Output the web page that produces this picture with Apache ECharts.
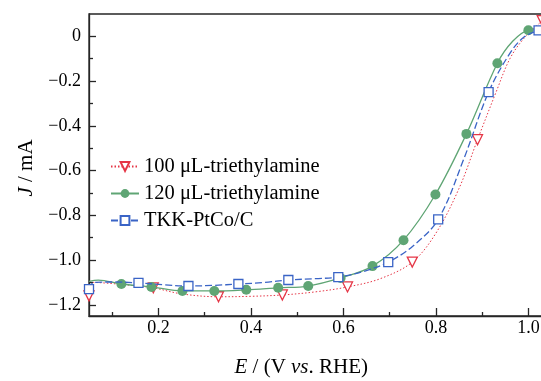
<!DOCTYPE html>
<html>
<head>
<meta charset="utf-8">
<script src="https://cdn.jsdelivr.net/npm/echarts@6/dist/echarts.min.js"></script>
<style>
html,body{margin:0;padding:0;background:#fff;}
#c{width:541px;height:381px;}
</style>
</head>
<body>
<div id="c"></div>
<script>
// ---- data (E in V vs. RHE, J in mA) ----
const seriesNames = ['100 μL-triethylamine', '120 μL-triethylamine', 'TKK-PtCo/C'];

// 100 µL-triethylamine: marker points
const e100Marks = [0.05, 0.189, 0.33, 0.468, 0.609, 0.749, 0.89, 1.03];
const j100Marks = [-1.16, -1.124, -1.164, -1.156, -1.12, -1.009, -0.462, 0.07];
// 100 µL-triethylamine: curve points between markers
const e100Curve = [0.06, 0.10, 0.15, 0.25, 0.40, 0.54, 0.68, 0.80, 0.85, 0.93, 0.96, 0.99];
const j100Curve = [-1.10, -1.105, -1.115, -1.151, -1.162, -1.142, -1.083, -0.88, -0.68, -0.25, -0.10, -0.01];

// 120 µL-triethylamine
const e120Marks = [0.12, 0.185, 0.252, 0.321, 0.39, 0.459, 0.524, 0.594, 0.663, 0.73, 0.799, 0.866, 0.933, 1.0];
const j120Marks = [-1.107, -1.12, -1.138, -1.138, -1.133, -1.124, -1.116, -1.08, -1.027, -0.911, -0.707, -0.436, -0.12, 0.027];
const e120Curve = [0.05, 0.07, 0.966, 1.03];
const j120Curve = [-1.095, -1.09, -0.022, 0.03];

// TKK-PtCo/C
const eTKKMarks = [0.05, 0.157, 0.265, 0.373, 0.481, 0.589, 0.697, 0.805, 0.914, 1.022];
const jTKKMarks = [-1.13, -1.102, -1.116, -1.107, -1.089, -1.076, -1.009, -0.818, -0.249, 0.027];
const eTKKCurve = [0.06, 0.10, 0.21, 0.32, 0.43, 0.54, 0.645, 0.75, 0.86, 0.96, 0.99];
const jTKKCurve = [-1.10, -1.098, -1.11, -1.113, -1.10, -1.083, -1.05, -0.938, -0.55, -0.076, -0.004];

// axis ticks
const xMajorTicks = [0.2, 0.4, 0.6, 0.8, 1.0];
const xMinorTicks = [0.1, 0.3, 0.5, 0.7, 0.9];
const yMajorTicks = [-1.2, -1.0, -0.8, -0.6, -0.4, -0.2, 0];
const yMinorTicks = [-1.1, -0.9, -0.7, -0.5, -0.3, -0.1];
const xRange = [0.05, 1.05];
const yRange = [-1.25, 0.1];

// ---- build ----
function merge(em, jm, ec, jc) {
  const pts = [];
  em.forEach((e, i) => pts.push({ value: [e, jm[i]], mark: true }));
  ec.forEach((e, i) => pts.push({ value: [e, jc[i]], mark: false }));
  pts.sort((a, b) => a.value[0] - b.value[0]);
  return pts.map(p => p.mark ? { value: p.value } : { value: p.value, symbol: 'none' });
}

const FONT = "'Liberation Serif', 'Times New Roman', serif";
const AXC = '#262626';
const colors = ['#e53545', '#5fa574', '#3a64c6'];

function fmt(v) {
  if (Math.abs(v) < 1e-9) return '0';
  const s = Math.abs(v).toFixed(1);
  return v < 0 ? '\u2212' + s : s;
}

const chart = echarts.init(document.getElementById('c'), null, { renderer: 'canvas' });

const gridRect = { left: 89, top: 14, width: 462.5, height: 302, containLabel: false, outerBoundsMode: 'none' };

chart.setOption({
  animation: false,
  backgroundColor: '#fff',
  grid: [
    Object.assign({ show: true, borderColor: AXC, borderWidth: 1.3, backgroundColor: 'transparent' }, gridRect),
    Object.assign({ show: false }, gridRect)
  ],
  legend: {
    orient: 'vertical', left: 105, top: 151,
    itemWidth: 28, itemHeight: 11, itemGap: 6,
    textStyle: { fontFamily: FONT, fontSize: 20.5, color: '#000' },
    data: seriesNames
  },
  xAxis: [
    {
      type: 'value', min: xRange[0], max: xRange[1], gridIndex: 0, position: 'bottom',
      splitLine: { show: false },
      name: '{i|E} / (V {i|vs}. RHE)',
      nameLocation: 'middle', nameGap: 41,
      nameTextStyle: {
        fontFamily: FONT, fontSize: 21, color: '#000', padding: [0, 38, 0, 0],
        rich: { i: { fontFamily: FONT, fontSize: 21, fontStyle: 'italic', color: '#000' } }
      },
      axisLine: { show: true, onZero: false, lineStyle: { color: AXC, width: 1.3 } },
      axisTick: { show: true, inside: true, length: 8, customValues: xMajorTicks, lineStyle: { color: AXC, width: 1.3 } },
      axisLabel: { show: true, customValues: xMajorTicks, formatter: fmt, margin: 3, fontFamily: FONT, fontSize: 18, color: '#000' }
    },
    {
      type: 'value', min: xRange[0], max: xRange[1], gridIndex: 1, position: 'bottom',
      splitLine: { show: false },
      axisLine: { show: false, onZero: false },
      axisTick: { show: true, inside: true, length: 4, customValues: xMinorTicks, lineStyle: { color: AXC, width: 1.3 } },
      axisLabel: { show: false }
    }
  ],
  yAxis: [
    {
      type: 'value', min: yRange[0], max: yRange[1], gridIndex: 0, position: 'left',
      splitLine: { show: false },
      name: '{i|J} / mA',
      nameLocation: 'middle', nameGap: 52, nameRotate: 90,
      nameTextStyle: {
        fontFamily: FONT, fontSize: 21, color: '#000', padding: [0, 6, 0, 0],
        rich: { i: { fontFamily: FONT, fontSize: 21, fontStyle: 'italic', color: '#000' } }
      },
      axisLine: { show: true, onZero: false, lineStyle: { color: AXC, width: 1.3 } },
      axisTick: { show: true, inside: true, length: 7, customValues: yMajorTicks, lineStyle: { color: AXC, width: 1.3 } },
      axisLabel: { show: true, customValues: yMajorTicks, formatter: fmt, margin: 8, fontFamily: FONT, fontSize: 18, color: '#000' }
    },
    {
      type: 'value', min: yRange[0], max: yRange[1], gridIndex: 1, position: 'left',
      splitLine: { show: false },
      axisLine: { show: false, onZero: false },
      axisTick: { show: true, inside: true, length: 4, customValues: yMinorTicks, lineStyle: { color: AXC, width: 1.3 } },
      axisLabel: { show: false }
    }
  ],
  series: [
    {
      name: seriesNames[0], type: 'line', xAxisIndex: 0, yAxisIndex: 0,
      data: merge(e100Marks, j100Marks, e100Curve, j100Curve),
      smooth: 0.35,
      symbol: 'triangle', symbolRotate: 180, symbolSize: 10, showSymbol: true,
      itemStyle: { color: '#fff', borderColor: colors[0], borderWidth: 1.3 },
      lineStyle: { color: colors[0], width: 1, type: [1.5, 2] },
      color: colors[0], z: 3
    },
    {
      name: seriesNames[1], type: 'line', xAxisIndex: 0, yAxisIndex: 0,
      data: merge(e120Marks, j120Marks, e120Curve, j120Curve),
      smooth: 0.35,
      symbol: 'circle', symbolSize: 10, showSymbol: true,
      itemStyle: { color: colors[1], borderColor: colors[1], borderWidth: 0 },
      lineStyle: { color: colors[1], width: 1.3, type: 'solid' },
      color: colors[1], z: 4
    },
    {
      name: seriesNames[2], type: 'line', xAxisIndex: 0, yAxisIndex: 0,
      data: merge(eTKKMarks, jTKKMarks, eTKKCurve, jTKKCurve),
      smooth: 0.35,
      symbol: 'rect', symbolSize: 9, showSymbol: true,
      itemStyle: { color: '#fff', borderColor: colors[2], borderWidth: 1.3 },
      lineStyle: { color: colors[2], width: 1.3, type: [7, 3] },
      color: colors[2], z: 5
    }
  ]
});
</script>
</body>
</html>
